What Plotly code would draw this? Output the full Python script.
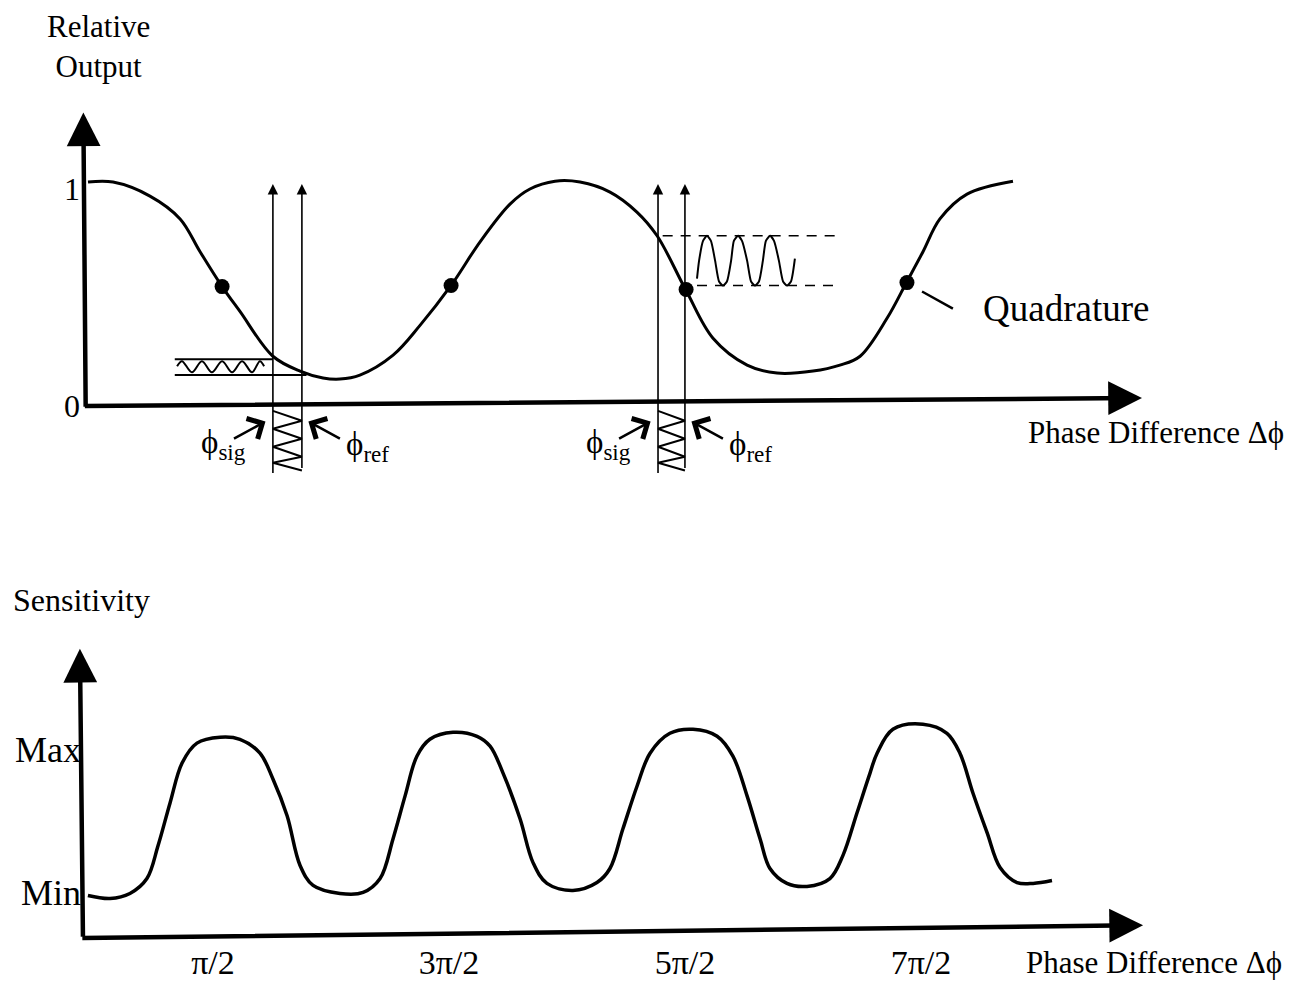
import plotly.graph_objects as go

W, H = 1294, 981          # page size
OFF = 8                   # page offset of the plot (body margin)
WF, HF = W - OFF, H - OFF # figure size
FONT = "Liberation Serif, Times New Roman, serif"

# ---------------- top panel: relative output vs phase difference (phase in units of pi)
out_phase = [0.000, 0.108, 0.267, 0.397, 0.483, 0.578, 0.655, 0.797, 0.914, 1.013, 1.086,
             1.172, 1.315, 1.431, 1.565, 1.690, 1.819, 1.905, 2.013, 2.121, 2.250, 2.366,
             2.453, 2.578, 2.694, 2.841, 2.970, 3.125, 3.241, 3.328, 3.444, 3.530, 3.599,
             3.672, 3.789, 3.987]
out_value = [1.009, 1.009, 0.946, 0.843, 0.695, 0.538, 0.426, 0.224, 0.157, 0.126, 0.121,
             0.139, 0.229, 0.363, 0.543, 0.740, 0.910, 0.978, 1.013, 1.009, 0.964, 0.874,
             0.767, 0.520, 0.305, 0.184, 0.148, 0.157, 0.184, 0.224, 0.395, 0.561, 0.695,
             0.843, 0.955, 1.013]
quad_phase = [0.578, 1.565, 2.578, 3.530]
quad_value = [0.538, 0.543, 0.525, 0.556]
probe_sig = [0.797, 2.457]
probe_ref = [0.922, 2.573]
out_tick_vals = [0, 0.98]
out_tick_text = ["0", "1"]

# small output ripple near the minimum (left)
ripple_low_phase = [0.384, 0.405, 0.448, 0.491, 0.534, 0.578, 0.621, 0.664, 0.707, 0.741, 0.759]
ripple_low_value = [0.179, 0.202, 0.152, 0.202, 0.152, 0.202, 0.152, 0.202, 0.152, 0.202, 0.179]
ripple_low_bounds = [0.211, 0.139]
# large output ripple at quadrature (right)
ripple_high_phase = [2.625, 2.634, 2.651, 2.668, 2.685, 2.703, 2.720, 2.737, 2.754, 2.772,
                     2.784, 2.802, 2.819, 2.841, 2.858, 2.875, 2.892, 2.909, 2.922, 2.940,
                     2.957, 2.978, 2.996, 3.013, 3.030, 3.047]
ripple_high_value = [0.574, 0.655, 0.744, 0.767, 0.744, 0.655, 0.561, 0.543, 0.561, 0.655,
                     0.744, 0.767, 0.744, 0.655, 0.561, 0.543, 0.561, 0.655, 0.744, 0.767,
                     0.744, 0.655, 0.561, 0.543, 0.561, 0.664]
ripple_high_bounds = [0.767, 0.543]
# zig-zag levels of the phase modulation between the probe lines
zig_levels = [-0.022, -0.067, -0.103, -0.148, -0.184, -0.229, -0.256, -0.291]

# ---------------- bottom panel: sensitivity vs phase difference (phase in units of pi)
sens_phase = [-0.030, 0.064, 0.148, 0.220, 0.267, 0.318, 0.369, 0.432, 0.530, 0.614, 0.699,
              0.754, 0.814, 0.869, 0.924, 1.038, 1.136, 1.208, 1.263, 1.314, 1.364, 1.419,
              1.517, 1.619, 1.674, 1.729, 1.801, 1.856, 1.915, 2.025, 2.127, 2.182, 2.237,
              2.297, 2.352, 2.436, 2.534, 2.636, 2.703, 2.763, 2.818, 2.860, 2.932, 3.017,
              3.114, 3.169, 3.229, 3.284, 3.314, 3.381, 3.508, 3.610, 3.665, 3.720, 3.780,
              3.835, 3.907, 3.975, 4.055]
sens_value = [-0.021, -0.042, -0.007, 0.097, 0.326, 0.625, 0.903, 1.042, 1.083, 1.069, 0.972,
              0.792, 0.535, 0.188, 0.049, -0.007, 0.000, 0.097, 0.375, 0.674, 0.951, 1.069,
              1.118, 1.090, 1.021, 0.833, 0.514, 0.208, 0.063, 0.014, 0.069, 0.167, 0.444,
              0.743, 0.972, 1.111, 1.139, 1.090, 0.951, 0.674, 0.375, 0.167, 0.063, 0.042,
              0.097, 0.257, 0.556, 0.833, 0.972, 1.139, 1.174, 1.111, 0.972, 0.694, 0.417,
              0.174, 0.069, 0.063, 0.083]
sens_tick_vals = [0, 1]
sens_tick_text = ["Min", "Max"]
phase_tick_vals = [0.5, 1.5, 2.5, 3.5]
phase_tick_text = ["π/2", "3π/2", "5π/2", "7π/2"]

# ---------------- page-pixel <-> data scales (both panels overlay the whole figure)
TX0, TXS, TY0, TYS = 88, 232, 408, 223      # top: origin page pixel & pixels per unit
BX0, BXS, BY0, BYS = 95, 236, 897, 144      # bottom


def rng(p0, s, size, flip=False):
    p0 = p0 - OFF
    if flip:
        return [(p0 - size) / s, p0 / s]
    return [-p0 / s, (size - p0) / s]


fig = go.Figure()
blk = "black"

# top curve
fig.add_trace(go.Scatter(x=out_phase, y=out_value, mode="lines",
                         line=dict(color=blk, width=3, shape="spline", smoothing=1.0)))
fig.add_trace(go.Scatter(x=quad_phase, y=quad_value, mode="markers",
                         marker=dict(color=blk, size=15, symbol="circle")))

# ripple (left)
lo_x0 = ripple_low_phase[0] - 0.01
fig.add_trace(go.Scatter(x=[lo_x0, probe_sig[0]], y=[ripple_low_bounds[0]] * 2, mode="lines",
                         line=dict(color=blk, width=2)))
fig.add_trace(go.Scatter(x=[lo_x0, probe_ref[0] + 0.02], y=[ripple_low_bounds[1]] * 2, mode="lines",
                         line=dict(color=blk, width=2)))
fig.add_trace(go.Scatter(x=ripple_low_phase, y=ripple_low_value, mode="lines",
                         line=dict(color=blk, width=2, shape="spline", smoothing=1)))
# ripple (right)
hi_x1 = 3.241
fig.add_trace(go.Scatter(x=[probe_sig[1] + 0.02, hi_x1], y=[ripple_high_bounds[0]] * 2, mode="lines",
                         line=dict(color=blk, width=1.6, dash="10px,8px")))
fig.add_trace(go.Scatter(x=[ripple_high_phase[0], hi_x1], y=[ripple_high_bounds[1]] * 2, mode="lines",
                         line=dict(color=blk, width=1.6, dash="10px,8px")))
fig.add_trace(go.Scatter(x=ripple_high_phase, y=ripple_high_value, mode="lines",
                         line=dict(color=blk, width=2, shape="spline", smoothing=0.6)))

# zig-zags between probe lines
for s, r in zip(probe_sig, probe_ref):
    zx = [s if i % 2 == 0 else r for i in range(len(zig_levels))]
    fig.add_trace(go.Scatter(x=zx, y=zig_levels, mode="lines", line=dict(color=blk, width=2)))

# quadrature pointer
fig.add_trace(go.Scatter(x=[quad_phase[-1] + 0.065, quad_phase[-1] + 0.198],
                         y=[quad_value[-1] - 0.040, quad_value[-1] - 0.117],
                         mode="lines", line=dict(color=blk, width=2.5)))

# bottom curve
fig.add_trace(go.Scatter(x=sens_phase, y=sens_value, mode="lines", xaxis="x2", yaxis="y2",
                         line=dict(color=blk, width=3.5, shape="spline", smoothing=1.0)))

ann = []


def arrow(x, y, ax, ay, xr, yr, width, size, head, pix=False):
    d = dict(x=x, y=y, ax=ax, ay=ay, xref=xr, yref=yr, showarrow=True, text="",
             arrowhead=head, arrowsize=size, arrowwidth=width, arrowcolor=blk, standoff=0)
    if not pix:
        d.update(axref=xr, ayref=yr)
    ann.append(d)


# axes with arrows
arrow(-0.02, 1.323, -0.01, -0.01, "x", "y", 4.5, 1.5, 2)
arrow(4.543, 0.036, -0.02, 0.0, "x", "y", 4.5, 1.5, 2)
arrow(-0.064, 1.701, -0.051, -0.319, "x2", "y2", 4.5, 1.5, 2)
arrow(4.441, -0.229, -0.06, -0.319, "x2", "y2", 4.5, 1.5, 2)

# probe lines
bottoms = [-0.309, -0.287]
for s, r in zip(probe_sig, probe_ref):
    arrow(s, 1.0, s, bottoms[0], "x", "y", 1.6, 1.3, 2)
    arrow(r, 1.0, r, bottoms[1], "x", "y", 1.6, 1.3, 2)
    # phi arrows
    arrow(s - 0.032, -0.07, -33, 18, "x", "y", 2.5, 1.8, 4, pix=True)
    arrow(r + 0.028, -0.07, 33, 18, "x", "y", 2.5, 1.8, 4, pix=True)


def text(t, xp, yp, size, xanchor="left"):
    x, y = (xp - OFF) / WF, 1 - (yp - OFF) / HF
    ann.append(dict(x=x, y=y, xref="paper", yref="paper", text=t, showarrow=False,
                    xanchor=xanchor, yanchor="middle", font=dict(family=FONT, size=size, color=blk)))


text("Relative<br>Output", 98, 47, 31, "center")
text("Quadrature", 981, 310, 37)
text("Phase Difference Δϕ", 1026, 435, 31)
text("Phase Difference Δϕ", 1024, 967, 31)
text("Sensitivity", 11, 603, 32)
for s, r in zip(probe_sig, probe_ref):
    xs = TX0 + s * TXS
    xr = TX0 + r * TXS
    text("ϕ<sub>sig</sub>", xs - 74, 447, 33)
    text("ϕ<sub>ref</sub>", xr + 42, 449, 33)

fig.update_layout(
    width=WF, height=HF, autosize=False,
    margin=dict(l=0, r=0, t=0, b=0),
    paper_bgcolor="white", plot_bgcolor="white",
    showlegend=False,
    annotations=ann,
    xaxis=dict(range=rng(TX0, TXS, WF), visible=False, domain=[0, 1]),
    yaxis=dict(range=rng(TY0, TYS, HF, flip=True), anchor="free", position=(86 - OFF) / WF,
               showgrid=False, zeroline=False, showline=False, ticks="",
               tickvals=out_tick_vals, ticktext=out_tick_text, ticklabelstandoff=6,
               tickfont=dict(family=FONT, size=32, color=blk)),
    xaxis2=dict(range=rng(BX0, BXS, WF), overlaying="x", anchor="free", position=1 - (940 - OFF) / HF,
                showgrid=False, zeroline=False, showline=False, ticks="",
                tickvals=phase_tick_vals, ticktext=phase_tick_text, ticklabelstandoff=4,
                tickfont=dict(family=FONT, size=34, color=blk)),
    yaxis2=dict(range=rng(BY0, BYS, HF, flip=True), overlaying="y", anchor="free", position=(82 - OFF) / WF,
                showgrid=False, zeroline=False, showline=False, ticks="",
                tickvals=sens_tick_vals, ticktext=sens_tick_text, ticklabelstandoff=1,
                tickfont=dict(family=FONT, size=36, color=blk)),
)

fig.write_html("out.html")
